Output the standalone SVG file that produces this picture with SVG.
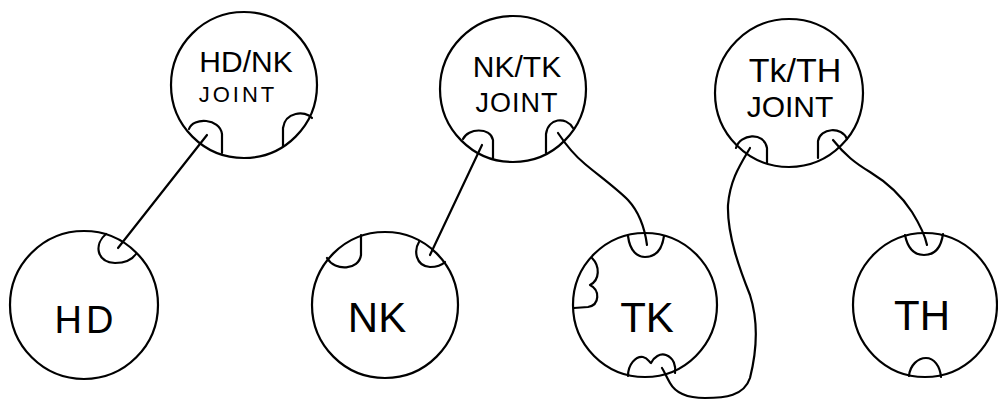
<svg xmlns="http://www.w3.org/2000/svg" width="998" height="400" viewBox="0 0 998 400">
  <style>
    .ring { fill: none; stroke: #000; stroke-width: 2.2; }
    .socket { fill: none; stroke: #000; stroke-width: 2.2; stroke-linecap: round; stroke-linejoin: round; }
    .wire { fill: none; stroke: #000; stroke-width: 2.2; stroke-linecap: round; stroke-linejoin: round; }
    .lbl { font-family: "Liberation Sans", Arial, sans-serif; fill: #000; text-anchor: middle; }
  </style>
  <rect width="998" height="400" fill="#fff"/>

  <!-- joint nodes -->
  <g id="joint-hd-nk">
    <circle class="ring" cx="244" cy="85" r="73"/>
    <path class="socket" d="M189,129 C193,117 220,118 222,134 L222,153"/>
    <path class="socket" d="M283,146 L283,128 C285,112 305,110 312,118"/>
    <text class="lbl" x="246" y="72" font-size="30">HD/NK</text>
    <text class="lbl" x="238" y="102" font-size="22" letter-spacing="3">JOINT</text>
  </g>

  <g id="joint-nk-tk">
    <circle class="ring" cx="513" cy="89" r="73"/>
    <path class="socket" d="M463,139 C468,128 490,127 493,140 L493,158"/>
    <path class="socket" d="M546,153 L546,134 C548,118 566,116 573,128"/>
    <text class="lbl" x="517" y="77" font-size="30">NK/TK</text>
    <text class="lbl" x="517" y="112" font-size="27" letter-spacing="1">JOINT</text>
  </g>

  <g id="joint-tk-th">
    <circle class="ring" cx="789" cy="93" r="74"/>
    <path class="socket" d="M736,148 C740,134 764,131 767,148 L767,163"/>
    <path class="socket" d="M818,158 L818,141 C820,128 842,126 847,139"/>
    <text class="lbl" x="795" y="82" font-size="34">Tk/TH</text>
    <text class="lbl" x="790" y="117" font-size="30">JOINT</text>
  </g>

  <!-- segment nodes -->
  <g id="seg-hd">
    <circle class="ring" cx="84" cy="305" r="74"/>
    <path class="socket" d="M106,234 C94,244 96,262 115,263 C125,263 132,260 136,254"/>
    <text class="lbl" x="86" y="333" font-size="38" letter-spacing="4">HD</text>
  </g>

  <g id="seg-nk">
    <circle class="ring" cx="385" cy="305" r="73"/>
    <path class="socket" d="M361,235 L361,255 C359,270 335,272 327,258"/>
    <path class="socket" d="M419,242 C414,250 415,266 430,267 C437,267 442,265 445,262"/>
    <text class="lbl" x="377" y="332" font-size="42">NK</text>
  </g>

  <g id="seg-tk">
    <circle class="ring" cx="645" cy="305" r="72"/>
    <path class="socket" d="M628,236 C630,252 638,257 645,257 C655,257 662,250 664,236"/>
    <path class="socket" d="M592,258 C600,266 600,280 590,285 C600,290 600,305 588,307 L574,308"/>
    <path class="socket" d="M628,376 C628,364 636,356 643,357 C648,358 649,362 651,363 C654,357 660,353 666,355 C674,358 676,366 675,373"/>
    <text class="lbl" x="647" y="332" font-size="42">TK</text>
  </g>

  <g id="seg-th">
    <circle class="ring" cx="925" cy="305" r="72"/>
    <path class="socket" d="M905,235 C908,250 916,255 924,255 C934,255 941,248 943,234"/>
    <path class="socket" d="M909,376 C910,365 918,358 926,358 C934,358 940,366 941,377"/>
    <text class="lbl" x="922" y="330" font-size="42">TH</text>
  </g>

  <!-- wires between sockets -->
  <g id="connectors">
    <path class="wire" d="M207,135 L118,248"/>
    <path class="wire" d="M482,145 L430,255"/>
    <path class="wire" d="M558,133 C566,145 574,155 585,164 C598,175 616,188 628,200 C640,213 645,230 647,245"/>
    <path class="wire" d="M750,148 C740,165 730,180 728,205 C727,235 740,270 750,295 C758,320 757,350 750,378 C744,396 725,398 705,398 C688,398 676,394 670,383 C666,376 664,371 662,368"/>
    <path class="wire" d="M833,140 C845,155 855,163 870,172 C888,183 903,198 912,212 C920,225 925,235 927,245"/>
  </g>
</svg>
